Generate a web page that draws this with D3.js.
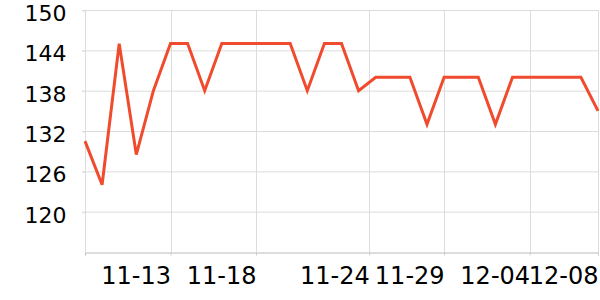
<!DOCTYPE html>
<html>
<head>
<meta charset="utf-8">
<script src="https://cdn.jsdelivr.net/npm/d3@7"></script>
<style>
  body { margin: 0; background: #fff; }
  svg { display: block; }
</style>
</head>
<body>
<svg id="chart"></svg>
<script>
// daily values, 11-08 .. 12-08
const startDate = '2023-11-08';
const values = [130.5, 124, 145, 128.5, 138, 145, 145, 138, 145, 145, 145, 145, 145,
    138, 145, 145, 138, 140, 140, 140, 133, 140, 140, 140, 133, 140, 140, 140, 140, 140, 135];
const yTicks = [120, 126, 132, 138, 144, 150];
const xTicks = ['2023-11-13', '2023-11-18', '2023-11-24T15:00', '2023-11-29', '2023-12-04', '2023-12-08'];

const width = 600, height = 300;
const margin = { top: 10, right: 2, bottom: 48, left: 85 };
const font = '"DejaVu Sans", sans-serif';

const parse = d3.isoParse;
const t0 = parse(startDate);
const data = values.map(function (v, i) {
    return { date: d3.timeDay.offset(t0, i), value: v };
});

const svg = d3.select('#chart')
    .attr('width', width)
    .attr('height', height);

const x = d3.scaleTime()
    .domain(d3.extent(data, d => d.date))
    .range([margin.left, width - margin.right]);

const y = d3.scaleLinear()
    .domain([114, 150])
    .range([height - margin.bottom, margin.top]);

// grid
svg.append('g')
    .selectAll('line.h')
    .data(yTicks)
    .enter()
    .append('line')
    .attr('x1', margin.left - 3)
    .attr('x2', width - margin.right)
    .attr('y1', d => y(d) + 0.5)
    .attr('y2', d => y(d) + 0.5)
    .attr('stroke', '#dcdcdc');

svg.append('g')
    .selectAll('line.v')
    .data(xTicks.map(parse))
    .enter()
    .append('line')
    .attr('x1', d => Math.round(x(d)) + 0.5)
    .attr('x2', d => Math.round(x(d)) + 0.5)
    .attr('y1', margin.top)
    .attr('y2', height - margin.bottom)
    .attr('stroke', '#dcdcdc');

// y axis
const yAxis = d3.axisLeft(y)
    .tickValues(yTicks)
    .tickSize(3)
    .tickPadding(16);

const gy = svg.append('g')
    .attr('transform', 'translate(' + (margin.left + 0.5) + ',0.5)')
    .call(yAxis)
    .attr('font-family', font);
gy.select('.domain').attr('stroke', '#dcdcdc').attr('d', 'M0,' + margin.top + 'V' + (height - margin.bottom));
gy.selectAll('.tick line').attr('stroke', '#dcdcdc');
gy.selectAll('.tick text')
    .attr('font-size', 22)
    .attr('dy', '0.46em')
    .attr('fill', '#000');

// x axis
const xAxis = d3.axisBottom(x)
    .tickValues(xTicks.map(parse))
    .tickFormat(d3.timeFormat('%m-%d'))
    .tickSize(3)
    .tickPadding(11);

const gx = svg.append('g')
    .attr('transform', 'translate(0,' + (height - margin.bottom + 0.5) + ')')
    .call(xAxis)
    .attr('font-family', font);
gx.select('.domain').attr('stroke', '#bbb');
gx.selectAll('.tick line').attr('stroke', '#ccc');
gx.selectAll('.tick text')
    .attr('font-size', 24)
    .attr('fill', '#000')
    .attr('text-anchor', 'end')
    .attr('dy', '0.71em');

// line
const line = d3.line()
    .x(d => x(d.date))
    .y(d => y(d.value));

svg.append('path')
    .datum(data)
    .attr('fill', 'none')
    .attr('stroke', '#f04b2d')
    .attr('stroke-width', 3)
    .attr('stroke-linejoin', 'miter')
    .attr('d', line);
</script>
</body>
</html>
